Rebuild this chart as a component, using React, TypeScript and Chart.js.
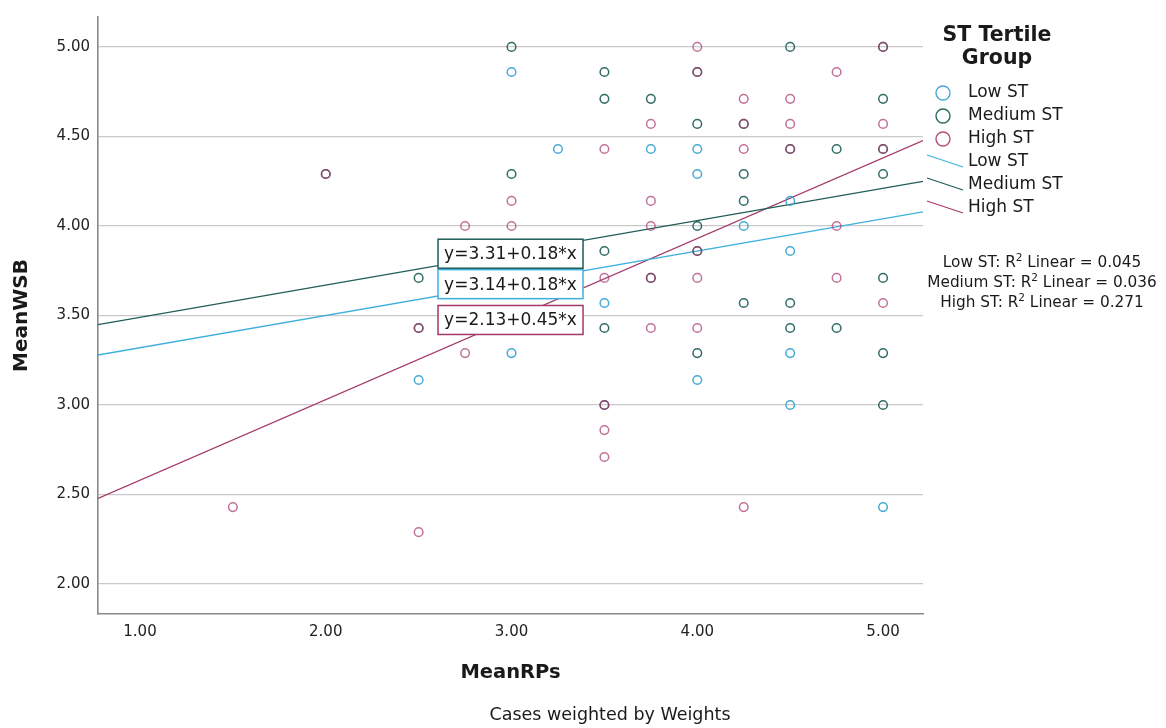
import React, { useEffect, useRef } from "react";
import { Chart, registerables } from "chart.js";

Chart.register(...registerables);

// ---------- data ----------
const groupNames = ["Low ST", "Medium ST", "High ST"];

const lowX = [2.5, 3, 3, 3.25, 3.5, 3.75, 4, 4, 4, 4.25, 4.5, 4.5, 4.5, 4.5, 5];
const lowY = [3.14, 4.86, 3.29, 4.43, 3.57, 4.43, 4.43, 4.29, 3.14, 4.0, 4.14, 3.86, 3.29, 3.0, 2.43];

const mediumX = [2, 2.5, 2.5, 3, 3, 3.5, 3.5, 3.5, 3.5, 3.5, 3.75, 3.75, 4, 4, 4, 4, 4, 4.25, 4.25, 4.25, 4.25, 4.5, 4.5, 4.5, 4.5, 4.75, 4.75, 5, 5, 5, 5, 5, 5, 5];
const mediumY = [4.29, 3.71, 3.43, 5.0, 4.29, 4.86, 4.71, 3.86, 3.43, 3.0, 4.71, 3.71, 4.86, 4.57, 4.0, 3.86, 3.29, 4.57, 4.29, 4.14, 3.57, 5.0, 4.43, 3.57, 3.43, 4.43, 3.43, 5.0, 4.71, 4.43, 4.29, 3.71, 3.29, 3.0];

const highX = [1.5, 2, 2.5, 2.5, 2.75, 2.75, 3, 3, 3.5, 3.5, 3.5, 3.5, 3.5, 3.75, 3.75, 3.75, 3.75, 3.75, 4, 4, 4, 4, 4, 4.25, 4.25, 4.25, 4.25, 4.5, 4.5, 4.5, 4.75, 4.75, 4.75, 5, 5, 5, 5];
const highY = [2.43, 4.29, 3.43, 2.29, 4.0, 3.29, 4.14, 4.0, 4.43, 3.71, 3.0, 2.86, 2.71, 4.57, 4.14, 4.0, 3.71, 3.43, 5.0, 4.86, 3.86, 3.71, 3.43, 4.71, 4.57, 4.43, 2.43, 4.71, 4.57, 4.43, 4.86, 4.0, 3.71, 5.0, 4.57, 4.43, 3.57];

// fit lines: Low, Medium, High
const intercepts = [3.14, 3.31, 2.13];
const slopes = [0.18, 0.18, 0.45];
const r2Values = ["0.045", "0.036", "0.271"];
const equationLabels = ["y=3.14+0.18*x", "y=3.31+0.18*x", "y=2.13+0.45*x"];

const xTicks = [1, 2, 3, 4, 5];
const yTicks = [2.0, 2.5, 3.0, 3.5, 4.0, 4.5, 5.0];
const xRange = [0.774, 5.215];
const yRange = [1.833, 5.167];

// ---------- styles ----------
const FONT = "'DejaVu Sans', sans-serif";
const pointColors = ["rgba(60,165,212,0.95)", "rgba(28,92,86,0.9)", "rgba(170,60,115,0.72)"];
const lineColors = ["#3fb0de", "#1f5d58", "#a3386a"];
const legendPointColors = ["#4aa9d2", "#2a6a63", "#b0507f"];

const W = 1166;
const H = 728;
const AREA = { left: 98, right: 923, top: 14, bottom: 614 };
// equation boxes (anchor in data units): Low, Medium, High
const EQ_ANCHOR_X = 3.0;
const EQ_ANCHOR_Y = [3.675, 3.845, 3.475];

const toPts = (xs: number[], ys: number[]) => xs.map((x, i) => ({ x, y: ys[i] }));

const decorPlugin = {
  id: "spssDecor",
  afterDatasetsDraw(chart: any) {
    const { ctx, scales } = chart;
    const xs = scales.x;
    const ys = scales.y;
    ctx.save();
    ctx.font = `17px ${FONT}`;
    ctx.textAlign = "center";
    ctx.textBaseline = "middle";
    for (let i = 0; i < 3; i++) {
      const cx = xs.getPixelForValue(EQ_ANCHOR_X) - 1;
      const cy = ys.getPixelForValue(EQ_ANCHOR_Y[i]);
      const bw = 145;
      const bh = 29;
      ctx.fillStyle = "#ffffff";
      ctx.fillRect(cx - bw / 2, cy - bh / 2, bw, bh);
      ctx.strokeStyle = lineColors[i];
      ctx.lineWidth = 1.5;
      ctx.strokeRect(cx - bw / 2, cy - bh / 2, bw, bh);
      ctx.fillStyle = "#1a1a1a";
      ctx.fillText(equationLabels[i], cx, cy + 1);
    }
    ctx.restore();
  },
  afterDraw(chart: any) {
    const { ctx, chartArea } = chart;
    ctx.save();
    ctx.fillStyle = "#1a1a1a";
    ctx.textBaseline = "middle";

    // axis titles
    ctx.font = `bold 19.5px ${FONT}`;
    ctx.textAlign = "center";
    ctx.fillText("MeanRPs", (chartArea.left + chartArea.right) / 2, 673);
    ctx.save();
    ctx.translate(22, (chartArea.top + chartArea.bottom) / 2);
    ctx.rotate(-Math.PI / 2);
    ctx.font = `bold 20px ${FONT}`;
    ctx.fillText("MeanWSB", 0, 0);
    ctx.restore();

    // footnote
    ctx.font = `17.5px ${FONT}`;
    ctx.fillText("Cases weighted by Weights", 610, 715);

    // legend title
    ctx.font = `bold 20.5px ${FONT}`;
    ctx.fillText("ST Tertile", 997, 36);
    ctx.fillText("Group", 997, 59);

    // legend items
    ctx.textAlign = "left";
    ctx.font = `17px ${FONT}`;
    const pointRows = [93, 116, 139];
    const lineRows = [162, 185, 208];
    for (let i = 0; i < 3; i++) {
      ctx.beginPath();
      ctx.arc(943, pointRows[i], 7, 0, Math.PI * 2);
      ctx.strokeStyle = legendPointColors[i];
      ctx.lineWidth = 1.4;
      ctx.stroke();
      ctx.fillStyle = "#1a1a1a";
      ctx.fillText(groupNames[i], 968, pointRows[i]);

      ctx.beginPath();
      ctx.moveTo(927, lineRows[i] - 7);
      ctx.lineTo(963, lineRows[i] + 5);
      ctx.strokeStyle = lineColors[i];
      ctx.lineWidth = 1.3;
      ctx.stroke();
      ctx.fillText(groupNames[i], 968, lineRows[i]);
    }

    // R² annotations
    const r2Rows = [263, 283, 303];
    const big = 15.3;
    const small = 10.5;
    for (let i = 0; i < 3; i++) {
      const a = `${groupNames[i]}: R`;
      const sup = "2";
      const b = ` Linear = ${r2Values[i]}`;
      ctx.font = `${big}px ${FONT}`;
      const wa = ctx.measureText(a).width;
      const wb = ctx.measureText(b).width;
      ctx.font = `${small}px ${FONT}`;
      const ws = ctx.measureText(sup).width;
      const total = wa + ws + wb;
      let x = 1042 - total / 2;
      ctx.font = `${big}px ${FONT}`;
      ctx.fillText(a, x, r2Rows[i]);
      x += wa;
      ctx.font = `${small}px ${FONT}`;
      ctx.fillText(sup, x, r2Rows[i] - 5);
      x += ws;
      ctx.font = `${big}px ${FONT}`;
      ctx.fillText(b, x, r2Rows[i]);
    }
    ctx.restore();
  },
};

export default function App() {
  const canvasRef = useRef<HTMLCanvasElement | null>(null);

  useEffect(() => {
    if (!canvasRef.current) return;
    const fitLine = (i: number) => [
      { x: xRange[0], y: intercepts[i] + slopes[i] * xRange[0] },
      { x: xRange[1], y: intercepts[i] + slopes[i] * xRange[1] },
    ];
    const pointSets = [toPts(lowX, lowY), toPts(mediumX, mediumY), toPts(highX, highY)];
    const datasets: any[] = [];
    for (let i = 0; i < 3; i++) {
      datasets.push({
        label: groupNames[i],
        data: pointSets[i],
        pointStyle: "circle",
        pointRadius: 4.3,
        pointBorderWidth: 1.5,
        pointBackgroundColor: "rgba(0,0,0,0)",
        pointBorderColor: pointColors[i],
        showLine: false,
        order: 3 - i,
      });
    }
    for (let i = 0; i < 3; i++) {
      datasets.push({
        label: groupNames[i] + " fit",
        data: fitLine(i),
        showLine: true,
        pointRadius: 0,
        borderColor: lineColors[i],
        borderWidth: 1.3,
        fill: false,
        order: 10 + i,
      });
    }

    const chart = new Chart(canvasRef.current, {
      type: "scatter",
      data: { datasets },
      options: {
        animation: false,
        responsive: false,
        devicePixelRatio: 1,
        events: [],
        layout: { padding: { left: 0, top: AREA.top, right: W - AREA.right, bottom: 0 } },
        plugins: { legend: { display: false }, tooltip: { enabled: false } },
        scales: {
          x: {
            type: "linear",
            min: xRange[0],
            max: xRange[1],
            afterFit: (s: any) => {
              s.height = H - AREA.bottom;
            },
            afterBuildTicks: (s: any) => {
              s.ticks = xTicks.map((v) => ({ value: v }));
            },
            grid: { display: false, drawTicks: false },
            border: { display: true, color: "#8a8a8a", width: 1.6 },
            ticks: {
              padding: 9,
              color: "#222",
              font: { family: FONT, size: 15 },
              callback: (v: any) => Number(v).toFixed(2),
              maxRotation: 0,
              autoSkip: false,
            },
          },
          y: {
            type: "linear",
            min: yRange[0],
            max: yRange[1],
            afterFit: (s: any) => {
              s.width = AREA.left;
            },
            afterBuildTicks: (s: any) => {
              s.ticks = yTicks.map((v) => ({ value: v }));
            },
            grid: { display: true, color: "#c9c9c9", lineWidth: 1.2, drawTicks: false },
            border: { display: true, color: "#8a8a8a", width: 1.6 },
            ticks: {
              padding: 8,
              color: "#222",
              font: { family: FONT, size: 15 },
              callback: (v: any) => Number(v).toFixed(2),
              autoSkip: false,
            },
          },
        },
      },
      plugins: [decorPlugin],
    });
    return () => chart.destroy();
  }, []);

  return (
    <div style={{ position: "absolute", left: 0, top: 0, width: W, height: H, background: "#fff" }}>
      <canvas ref={canvasRef} width={W} height={H} style={{ display: "block", width: W, height: H }} />
    </div>
  );
}
